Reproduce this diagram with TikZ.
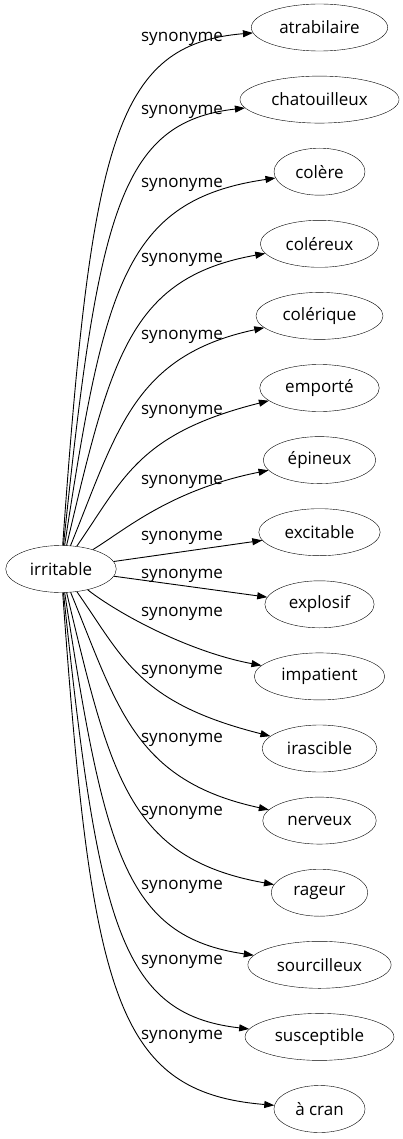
\documentclass[tikz,border=0pt]{standalone}
\usepackage{fontspec}
\setmainfont{Open Sans}
\usetikzlibrary{arrows.meta,shapes.geometric}
\tikzset{%
  word/.style={draw,shape=ellipse,inner xsep=8pt,inner ysep=1pt,minimum height=47pt},
  syn/.style={inner sep=0pt},
  link/.style={->,line width=0.9pt}
}
\begin{document}
\begin{tikzpicture}[
        x=1pt,y=-1pt,
        every node/.style={font=\fontsize{17}{20}\selectfont},
        >={Triangle[length=10pt,width=7pt]}
      ]
      \useasboundingbox (0,0) rectangle (403,1139);
      \node[word](r) at (61,569) {irritable};
      \foreach \w [count=\i from 0] in {atrabilaire,chatouilleux,colère,coléreux,colérique,emporté,épineux,excitable,explosif,impatient,irascible,nerveux,rageur,sourcilleux,susceptible,à cran}
        \node[word](s\i) at (319.5,27.5+72.1*\i) {\w};
      \foreach \ly [count=\i from 0] in {39,112,185,260,337,412,482,538,576,614,672,740,813,887,962,1037}
        \node[syn](l\i) at (182,\ly) {synonyme};
      % upper fan
      \foreach \i in {0,...,5} {
        \pgfmathsetmacro\yc{27.5+72.1*\i}
        \pgfmathsetmacro\d{569-\yc}
        \pgfmathsetmacro\xa{140-0.09*\d}
        \pgfmathsetmacro\ya{\yc+min(115,0.5*\d)}
        \pgfmathsetmacro\xb{150-0.065*\d}
        \pgfmathsetmacro\yb{\yc+60-0.08*\d}
        \draw[link] (r) .. controls (\xa,\ya) and (\xb,\yb) .. (s\i);
      }
      \draw[link] (r) .. controls (125,530) and (170,490) .. (s6);
      \draw[link] (r) -- (s7);
      \draw[link] (r) -- (s8);
      \draw[link] (r) .. controls (120,615) and (190,652) .. (s9);
      % lower fan
      \foreach \i in {10,...,15} {
        \pgfmathsetmacro\yc{27.5+72.1*\i}
        \pgfmathsetmacro\d{\yc-569}
        \pgfmathsetmacro\xa{140-0.09*\d}
        \pgfmathsetmacro\ya{\yc-min(115,0.5*\d)}
        \pgfmathsetmacro\xb{150-0.065*\d}
        \pgfmathsetmacro\yb{\yc-60+0.08*\d}
        \draw[link] (r) .. controls (\xa,\ya) and (\xb,\yb) .. (s\i);
      }
    \end{tikzpicture}
\end{document}
